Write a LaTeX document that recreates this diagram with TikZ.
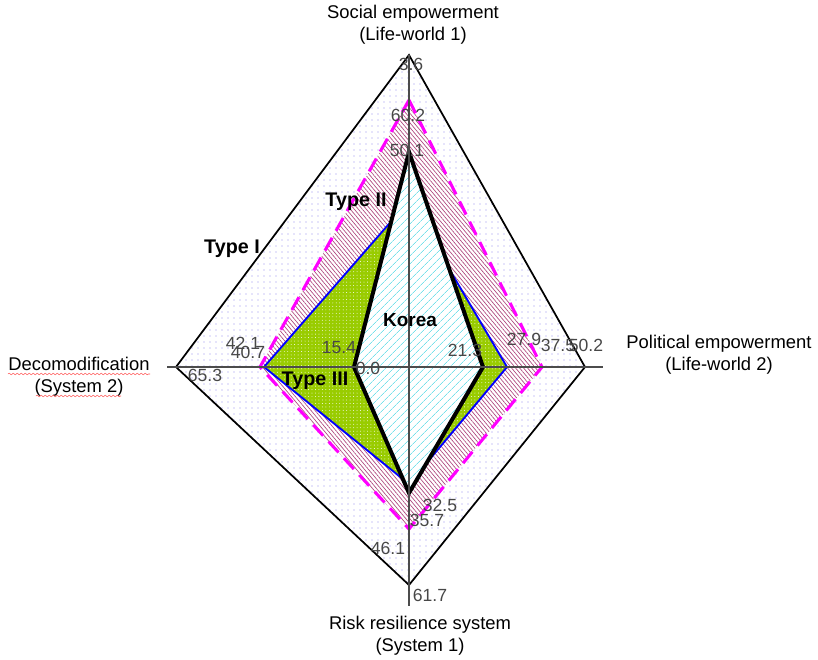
\documentclass[tikz,border=0pt]{standalone}
\usepackage{fontspec}
\setmainfont{Liberation Sans}
\usetikzlibrary{patterns.meta, decorations.pathmorphing}

\definecolor{typegreen}{RGB}{153,204,0}
\definecolor{hatchred}{RGB}{175,70,125}
\definecolor{dotblue}{RGB}{150,140,240}
\definecolor{koreacyan}{RGB}{120,225,235}
\definecolor{dashmagenta}{RGB}{255,0,255}

\begin{document}
\begin{tikzpicture}[x=0.75pt, y=-0.75pt,
  axistitle/.style={align=center, font=\fontsize{13.8}{16.8}\selectfont},
  value/.style={font=\fontsize{13.2}{14}\selectfont, text=black!72, inner sep=0pt},
  typelabel/.style={font=\fontsize{14.8}{16}\selectfont\bfseries, inner sep=0pt}]

\useasboundingbox (0,0) rectangle (818,660);

% axes
\coordinate (axn) at (409,55);
\coordinate (axs) at (409,606);
\coordinate (axw) at (167,367);
\coordinate (axe) at (603,367);

% Type I
\coordinate (ain) at (409,55);
\coordinate (aie) at (585,367);
\coordinate (ais) at (409,585);
\coordinate (aiw) at (176,367);
\fill[white] (ain) -- (aie) -- (ais) -- (aiw) -- cycle;
\fill[pattern={Dots[distance=4.5pt, radius=0.45pt]}, pattern color=dotblue] (ain) -- (aie) -- (ais) -- (aiw) -- cycle;
\draw[line width=1.3pt, line join=miter] (ain) -- (aie) -- (ais) -- (aiw) -- cycle;

% Type II
\coordinate (bin) at (409,100);
\coordinate (bie) at (542,367);
\coordinate (bis) at (409,529);
\coordinate (biw) at (260,367);
\fill[white] (bin) -- (bie) -- (bis) -- (biw) -- cycle;
\fill[pattern={Lines[angle=-50, distance=2.3pt, line width=0.5pt]}, pattern color=hatchred] (bin) -- (bie) -- (bis) -- (biw) -- cycle;
\draw[dashmagenta, line width=2.3pt, dash pattern=on 11pt off 6pt] (bin) -- (bie) -- (bis) -- (biw) -- cycle;

% Type III
\coordinate (cin) at (409,201);
\coordinate (cie) at (507,367);
\coordinate (cis) at (409,484);
\coordinate (ciw) at (264,367);
\fill[typegreen] (cin) -- (cie) -- (cis) -- (ciw) -- cycle;
\fill[pattern={Dots[distance=2.6pt, radius=0.35pt]}, pattern color=white] (cin) -- (cie) -- (cis) -- (ciw) -- cycle;
\draw[blue, line width=1.4pt] (cin) -- (cie) -- (cis) -- (ciw) -- cycle;

% Korea
\coordinate (kn) at (409,152);
\coordinate (ke) at (483,367);
\coordinate (ks) at (409,493);
\coordinate (kw) at (354,367);
\fill[white] (kn) -- (ke) -- (ks) -- (kw) -- cycle;
\fill[pattern={Lines[angle=45, distance=4pt, line width=0.6pt]}, pattern color=koreacyan] (kn) -- (ke) -- (ks) -- (kw) -- cycle;
\draw[line width=3pt, line join=miter] (kn) -- (ke) -- (ks) -- (kw) -- cycle;

\draw[black!70, line width=0.8pt] (axn) -- (axs);
\draw[black!70, line width=0.8pt] (axw) -- (axe);

% values
\node (vn1) [value] at (411,64) {3.6};
\node (vn2) [value] at (408,115) {60.2};
\node (vn3) [value] at (407,150) {50.1};
\node (vw1) [value] at (243,343) {42.1};
\node (vw2) [value] at (248,352) {40.7};
\node (vw3) [value] at (339,348) {15.4};
\node (vw4) [value] at (368,368) {0.0};
\node (vw5) [value] at (205,375) {65.3};
\node (ve1) [value] at (465,350) {21.3};
\node (ve2) [value] at (524,339) {27.9};
\node (ve3) [value] at (558,345) {37.5};
\node (ve4) [value] at (586,345) {50.2};
\node (vs1) [value] at (440,505) {32.5};
\node (vs2) [value] at (427,520) {35.7};
\node (vs3) [value] at (388,548) {46.1};
\node (vs4) [value] at (430,595) {61.7};

% type labels
\node (typei) [typelabel] at (232,249) {Type I};
\node (typeii) [typelabel] at (356,202) {Type II};
\node (typeiii) [typelabel] at (315,381) {Type III};
\node (korea) [typelabel, font=\fontsize{14.2}{16}\selectfont\bfseries] at (410,320) {Korea};

% axis titles
\node (social) [axistitle] at (413,25) {Social empowerment\\(Life-world 1)};
\node (political) [axistitle] at (719,355) {Political empowerment\\(Life-world 2)};
\node (decomod) [axistitle] at (79,377) {Decomodification\\(System 2)};
\node (risk) [axistitle] at (420,636) {Risk resilience system\\(System 1)};

\draw[red!70, line width=0.4pt, decorate, decoration={snake, amplitude=0.6pt, segment length=3pt}] (8,374) -- (150,374);
\draw[red!70, line width=0.4pt, decorate, decoration={snake, amplitude=0.6pt, segment length=3pt}] (36,396) -- (121,396);
\end{tikzpicture}
\end{document}
